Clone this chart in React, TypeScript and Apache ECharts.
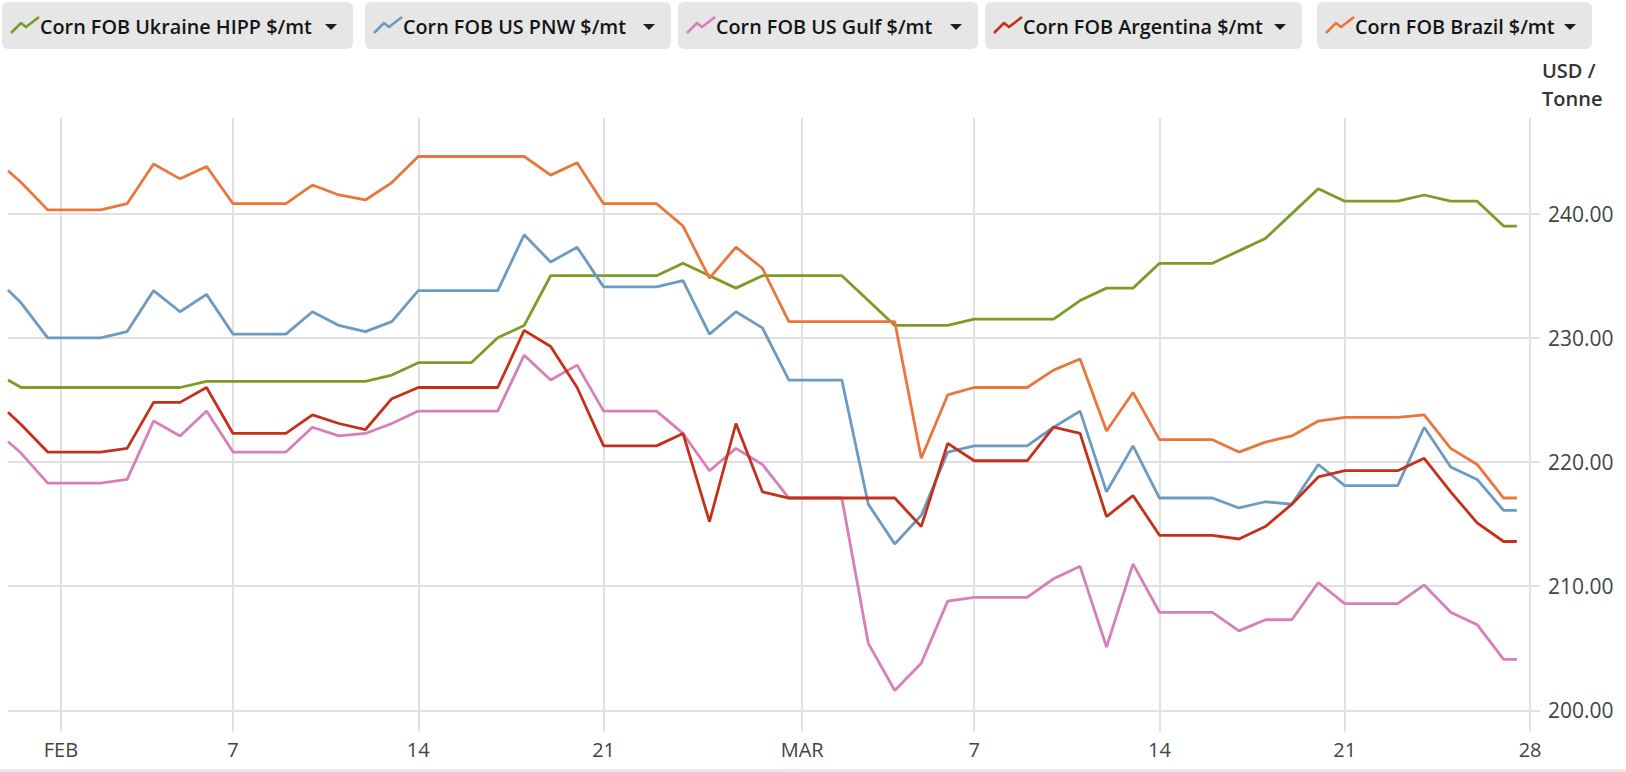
import React, { useEffect, useRef } from "react";
import * as echarts from "echarts";

// ---------- data ----------
const seriesNames = [
  "Corn FOB Ukraine HIPP $/mt",
  "Corn FOB US PNW $/mt",
  "Corn FOB US Gulf $/mt",
  "Corn FOB Argentina $/mt",
  "Corn FOB Brazil $/mt",
];
const seriesColors = ["#7b9c26", "#6b9ac3", "#d77fb9", "#c4301a", "#e9763b"];

// first visible point, then one point per day (Jan 30 .. Mar 27), then the end point
const firstStamp = "2025-01-29T12:00";
const firstDay = "2025-01-30";
const dayCount = 57;
const lastStamp = "2025-03-27T12:00";

const ukraine = [
  226.6, 226, 226, 226, 226, 226, 226, 226, 226.5, 226.5, 226.5, 226.5, 226.5, 226.5, 226.5,
  227, 228, 228, 228, 230, 231, 235, 235, 235, 235, 235, 236, 235, 234, 235, 235, 235, 235,
  233, 231, 231, 231, 231.5, 231.5, 231.5, 231.5, 233, 234, 234, 236, 236, 236, 237, 238,
  240, 242, 241, 241, 241, 241.5, 241, 241, 239, 239,
];
const usPnw = [
  233.85, 232.8, 230, 230, 230, 230.5, 233.8, 232.1, 233.5, 230.3, 230.3, 230.3, 232.1, 231,
  230.5, 231.3, 233.8, 233.8, 233.8, 233.8, 238.3, 236.1, 237.3, 234.1, 234.1, 234.1, 234.6,
  230.3, 232.1, 230.8, 226.6, 226.6, 226.6, 216.6, 213.4, 215.7, 220.8, 221.3, 221.3, 221.3,
  222.8, 224.1, 217.6, 221.3, 217.1, 217.1, 217.1, 216.3, 216.8, 216.6, 219.8, 218.1, 218.1,
  218.1, 222.8, 219.6, 218.6, 216.1, 216.1,
];
const usGulf = [
  221.65, 220.7, 218.3, 218.3, 218.3, 218.6, 223.3, 222.1, 224.1, 220.8, 220.8, 220.8, 222.8,
  222.1, 222.3, 223.1, 224.1, 224.1, 224.1, 224.1, 228.6, 226.6, 227.8, 224.1, 224.1, 224.1,
  222.3, 219.3, 221.1, 219.8, 217.1, 217.1, 217.1, 205.4, 201.6, 203.8, 208.8, 209.1, 209.1,
  209.1, 210.6, 211.6, 205.1, 211.8, 207.9, 207.9, 207.9, 206.4, 207.3, 207.3, 210.3, 208.6,
  208.6, 208.6, 210.1, 207.9, 206.9, 204.1, 204.1,
];
const argentina = [
  224.0, 223.0, 220.8, 220.8, 220.8, 221.1, 224.8, 224.8, 226.0, 222.3, 222.3, 222.3, 223.8,
  223.1, 222.6, 225.1, 226.0, 226.0, 226.0, 226.0, 230.6, 229.3, 226.0, 221.3, 221.3, 221.3,
  222.3, 215.2, 223.1, 217.6, 217.1, 217.1, 217.1, 217.1, 217.1, 214.8, 221.5, 220.1, 220.1,
  220.1, 222.8, 222.3, 215.6, 217.3, 214.1, 214.1, 214.1, 213.8, 214.8, 216.6, 218.8, 219.3,
  219.3, 219.3, 220.3, 217.6, 215.1, 213.6, 213.6,
];
const brazil = [
  243.45, 242.5, 240.3, 240.3, 240.3, 240.8, 244.0, 242.8, 243.8, 240.8, 240.8, 240.8, 242.3,
  241.5, 241.1, 242.5, 244.6, 244.6, 244.6, 244.6, 244.6, 243.1, 244.1, 240.8, 240.8, 240.8,
  239.0, 234.8, 237.3, 235.6, 231.3, 231.3, 231.3, 231.3, 231.3, 220.3, 225.4, 226.0, 226.0,
  226.0, 227.4, 228.3, 222.5, 225.6, 221.8, 221.8, 221.8, 220.8, 221.6, 222.1, 223.3, 223.6,
  223.6, 223.6, 223.8, 221.1, 219.8, 217.1, 217.1,
];
const seriesValues = [ukraine, usPnw, usGulf, argentina, brazil];

const xTickDates = [
  "2025-01-31T12:00", "2025-02-07", "2025-02-14", "2025-02-21", "2025-02-28T12:00",
  "2025-03-07", "2025-03-14", "2025-03-21", "2025-03-28",
];
const xTickLabels = ["FEB", "7", "14", "21", "MAR", "7", "14", "21", "28"];
const xRange = ["2025-01-29T12:00", "2025-03-28T09:00"];
const yTicks = [200, 210, 220, 230, 240];
const yRange = [198.3, 247.7];
const yUnit = "USD /\nTonne";

// ---------- helpers ----------
const ts = (s: string) => Date.parse(s.length === 10 ? s + "T00:00:00Z" : s + ":00Z");
const DAY = 86400000;
const dates: number[] = [ts(firstStamp)];
for (let i = 0; i < dayCount; i++) dates.push(ts(firstDay) + i * DAY);
dates.push(ts(lastStamp));

const tickStamps = xTickDates.map(ts);
const tickLabelMap = new Map<number, string>();
tickStamps.forEach((t, i) => tickLabelMap.set(t, xTickLabels[i]));

const FONT = '"Open Sans", "Noto Sans", sans-serif';

// legend button layout (pixels)
const legendBoxes = [
  { x: 2, w: 351 },
  { x: 365, w: 306 },
  { x: 678, w: 300 },
  { x: 985, w: 317 },
  { x: 1317, w: 275 },
];

function buildLegend() {
  const els: any[] = [];
  seriesNames.forEach((name, i) => {
    const b = legendBoxes[i];
    const right = b.x + b.w;
    els.push({
      type: "rect",
      shape: { x: b.x, y: 2, width: b.w, height: 47, r: 6 },
      style: { fill: "#e6e6e6" },
      silent: true,
    });
    els.push({
      type: "polyline",
      shape: {
        points: [
          [b.x + 9, 33],
          [b.x + 19, 23],
          [b.x + 24, 27],
          [b.x + 37, 17],
        ],
      },
      style: { stroke: seriesColors[i], lineWidth: 2.6, fill: null, lineJoin: "round" },
      silent: true,
    });
    els.push({
      type: "text",
      style: {
        text: name,
        x: b.x + 38,
        y: 26,
        verticalAlign: "middle",
        align: "left",
        fontFamily: FONT,
        fontSize: 19.8,
        fontWeight: 600,
        fill: "#151515",
      },
      silent: true,
    });
    els.push({
      type: "polygon",
      shape: {
        points: [
          [right - 28, 24],
          [right - 16, 24],
          [right - 22, 30],
        ],
      },
      style: { fill: "#1e1e1e" },
      silent: true,
    });
  });
  els.push({
    type: "line",
    shape: { x1: 0, y1: 770.5, x2: 1626, y2: 770.5 },
    style: { stroke: "#e4e4e4", lineWidth: 2 },
    silent: true,
  });
  return els;
}

export default function App() {
  const ref = useRef<HTMLDivElement>(null);
  useEffect(() => {
    if (!ref.current) return;
    const chart = echarts.init(ref.current, undefined, { renderer: "svg" });
    const gridLine = { show: true, lineStyle: { color: "#e0e0e0", width: 2 } };
    chart.setOption({
      animation: false,
      backgroundColor: "#ffffff",
      grid: { left: 8, right: 86, top: 118, bottom: 40.5, containLabel: false },
      xAxis: {
        type: "value",
        min: ts(xRange[0]),
        max: ts(xRange[1]),
        axisLine: { show: false },
        axisTick: { show: false, customValues: tickStamps },
        splitLine: gridLine,
        axisLabel: {
          customValues: tickStamps,
          formatter: (v: number) => tickLabelMap.get(v) ?? "",
          color: "#444",
          fontFamily: FONT,
          fontSize: 20,
          margin: 8,
        },
      },
      yAxis: {
        type: "value",
        position: "right",
        min: yRange[0],
        max: yRange[1],
        name: yUnit,
        nameLocation: "end",
        nameGap: 6,
        nameTextStyle: {
          align: "left",
          verticalAlign: "bottom",
          fontFamily: FONT,
          fontSize: 20,
          fontWeight: 600,
          lineHeight: 28,
          color: "#333",
          padding: [0, 0, 0, 2],
        },
        axisLine: { show: false },
        axisTick: { show: false, customValues: yTicks },
        splitLine: gridLine,
        axisLabel: {
          customValues: yTicks,
          formatter: (v: number) => v.toFixed(2),
          color: "#444",
          fontFamily: FONT,
          fontSize: 21,
          margin: 8,
        },
      },
      graphic: buildLegend(),
      series: seriesNames.map((name, i) => ({
        name,
        type: "line",
        showSymbol: false,
        symbol: "none",
        clip: true,
        silent: true,
        color: seriesColors[i],
        lineStyle: { color: seriesColors[i], width: 2.8 },
        emphasis: { disabled: true },
        data: dates.map((d, j) => [d, seriesValues[i][j]]),
      })),
    });
    return () => chart.dispose();
  }, []);
  return (
    <div
      ref={ref}
      style={{ position: "fixed", left: 0, top: 0, width: "1626px", height: "772px" }}
    />
  );
}
